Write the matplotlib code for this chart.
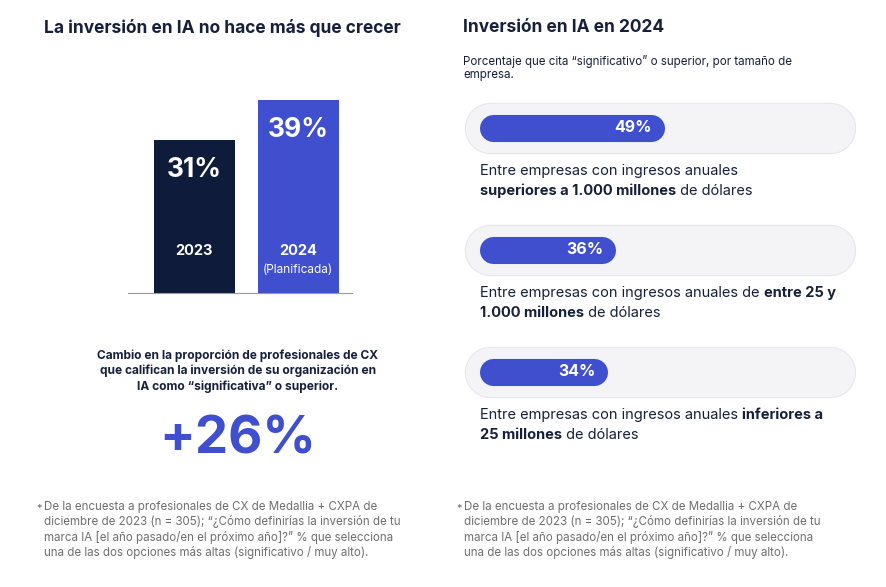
import matplotlib.pyplot as plt

plt.rcParams['font.family'] = ['Inter', 'DejaVu Sans']

# datos
anios = ['2023', '2024']
sub_anios = ['', '(Planificada)']
valores = [31, 39]
colores_barras = ['#0e1b3a', '#3f4fce']

segmentos = [49, 36, 34]
textos_seg = [
    [("Entre empresas con ingresos anuales", 'normal'), ("\n", 'normal'),
     ("superiores a 1.000 millones", 'bold'), (" de dólares", 'normal')],
    [("Entre empresas con ingresos anuales de ", 'normal'), ("entre 25 y", 'bold'),
     ("\n", 'normal'), ("1.000 millones", 'bold'), (" de dólares", 'normal')],
    [("Entre empresas con ingresos anuales ", 'normal'), ("inferiores a", 'bold'),
     ("\n", 'normal'), ("25 millones", 'bold'), (" de dólares", 'normal')],
]
nota = ("De la encuesta a profesionales de CX de Medallia + CXPA de\n"
        "diciembre de 2023 (n = 305); “¿Cómo definirías la inversión de tu\n"
        "marca IA [el año pasado/en el próximo año]?” % que selecciona\n"
        "una de las dos opciones más altas (significativo / muy alto).")

oscuro = '#16203a'
azul = '#3f4fce'
gris = '#6e6e6e'

fig = plt.figure(figsize=(8.86, 5.87), dpi=100)
ax = fig.add_axes([0, 0, 1, 1])
ax.set_xlim(0, 886)
ax.set_ylim(587, 0)
ax.axis('off')

# ---- izquierda ----
ax.text(44, 28, "La inversión en IA no hace más que crecer", fontsize=12.5,
        fontweight='bold', color=oscuro, va='center')

axb = fig.add_axes([128 / 886, 1 - 293 / 587, (352 - 128) / 886, 200 / 587])
pos = [0, 1]
axb.bar(pos, valores, width=0.78, color=colores_barras)
axb.set_xlim(-0.64, 1.52)
axb.set_ylim(0, 40.5)
for s in ['top', 'right', 'left']:
    axb.spines[s].set_visible(False)
axb.spines['bottom'].set_color('#999999')
axb.set_xticks([]); axb.set_yticks([])
for p, v, a, sub in zip(pos, valores, anios, sub_anios):
    axb.text(p, v - 6, f"{v}%", ha='center', va='center', color='white',
             fontsize=19, fontweight='bold')
    axb.text(p, 8.5, a, ha='center', va='center', color='white',
             fontsize=10.5, fontweight='bold')
    if sub:
        axb.text(p, 4.7, sub, ha='center', va='center', color='white', fontsize=8.5)

ax.text(238, 371, "Cambio en la proporción de profesionales de CX\n"
        "que califican la inversión de su organización en\n"
        "IA como “significativa” o superior.", ha='center', va='center',
        fontsize=8.6, fontweight='bold', color=oscuro, linespacing=1.3)
ax.text(238, 440, "+26%", ha='center', va='center', fontsize=38,
        fontweight='bold', color=azul)

# ---- derecha ----
ax.text(463, 28, "Inversión en IA en 2024", fontsize=12.5, fontweight='bold',
        color=oscuro, va='center')
ax.text(463, 68, "Porcentaje que cita “significativo” o superior, por tamaño de\nempresa.",
        fontsize=8.3, color=oscuro, va='center', linespacing=1.2)

x0, full = 480, 375
tops = [103, 225, 347]
for top, v, partes in zip(tops, segmentos, textos_seg):
    yc = top + 25
    # fondo en forma de píldora (línea gruesa con extremos redondeados)
    ax.plot([465 + 25, 855 - 25], [yc, yc], lw=37, color='#e6e6ea',
            solid_capstyle='round')
    ax.plot([465 + 25, 855 - 25], [yc, yc], lw=35.5, color='#f4f4f6',
            solid_capstyle='round')
    w = full * v / 100
    ax.plot([x0 + 13, x0 + w - 13], [yc, yc], lw=19.5, color=azul,
            solid_capstyle='round')
    ax.text(x0 + w - 12, yc, f"{v}%", ha='right', va='center',
            color='white', fontsize=11.5, fontweight='bold')
    # texto con partes en negrita
    y = top + 68
    x = 480
    for txt, wgt in partes:
        if txt == "\n":
            y += 20
            x = 480
            continue
        t = ax.text(x, y, txt, fontsize=10.5, fontweight=wgt, color=oscuro, va='center')
        fig.canvas.draw()
        x += t.get_window_extent().width

# notas
for xn in [36, 456]:
    ax.text(xn, 509, "*", fontsize=8, color=gris, va='center')
    ax.text(xn + 8, 530, nota, fontsize=8.3, color=gris, va='center', linespacing=1.25)

fig.savefig('out.png', dpi=100)
